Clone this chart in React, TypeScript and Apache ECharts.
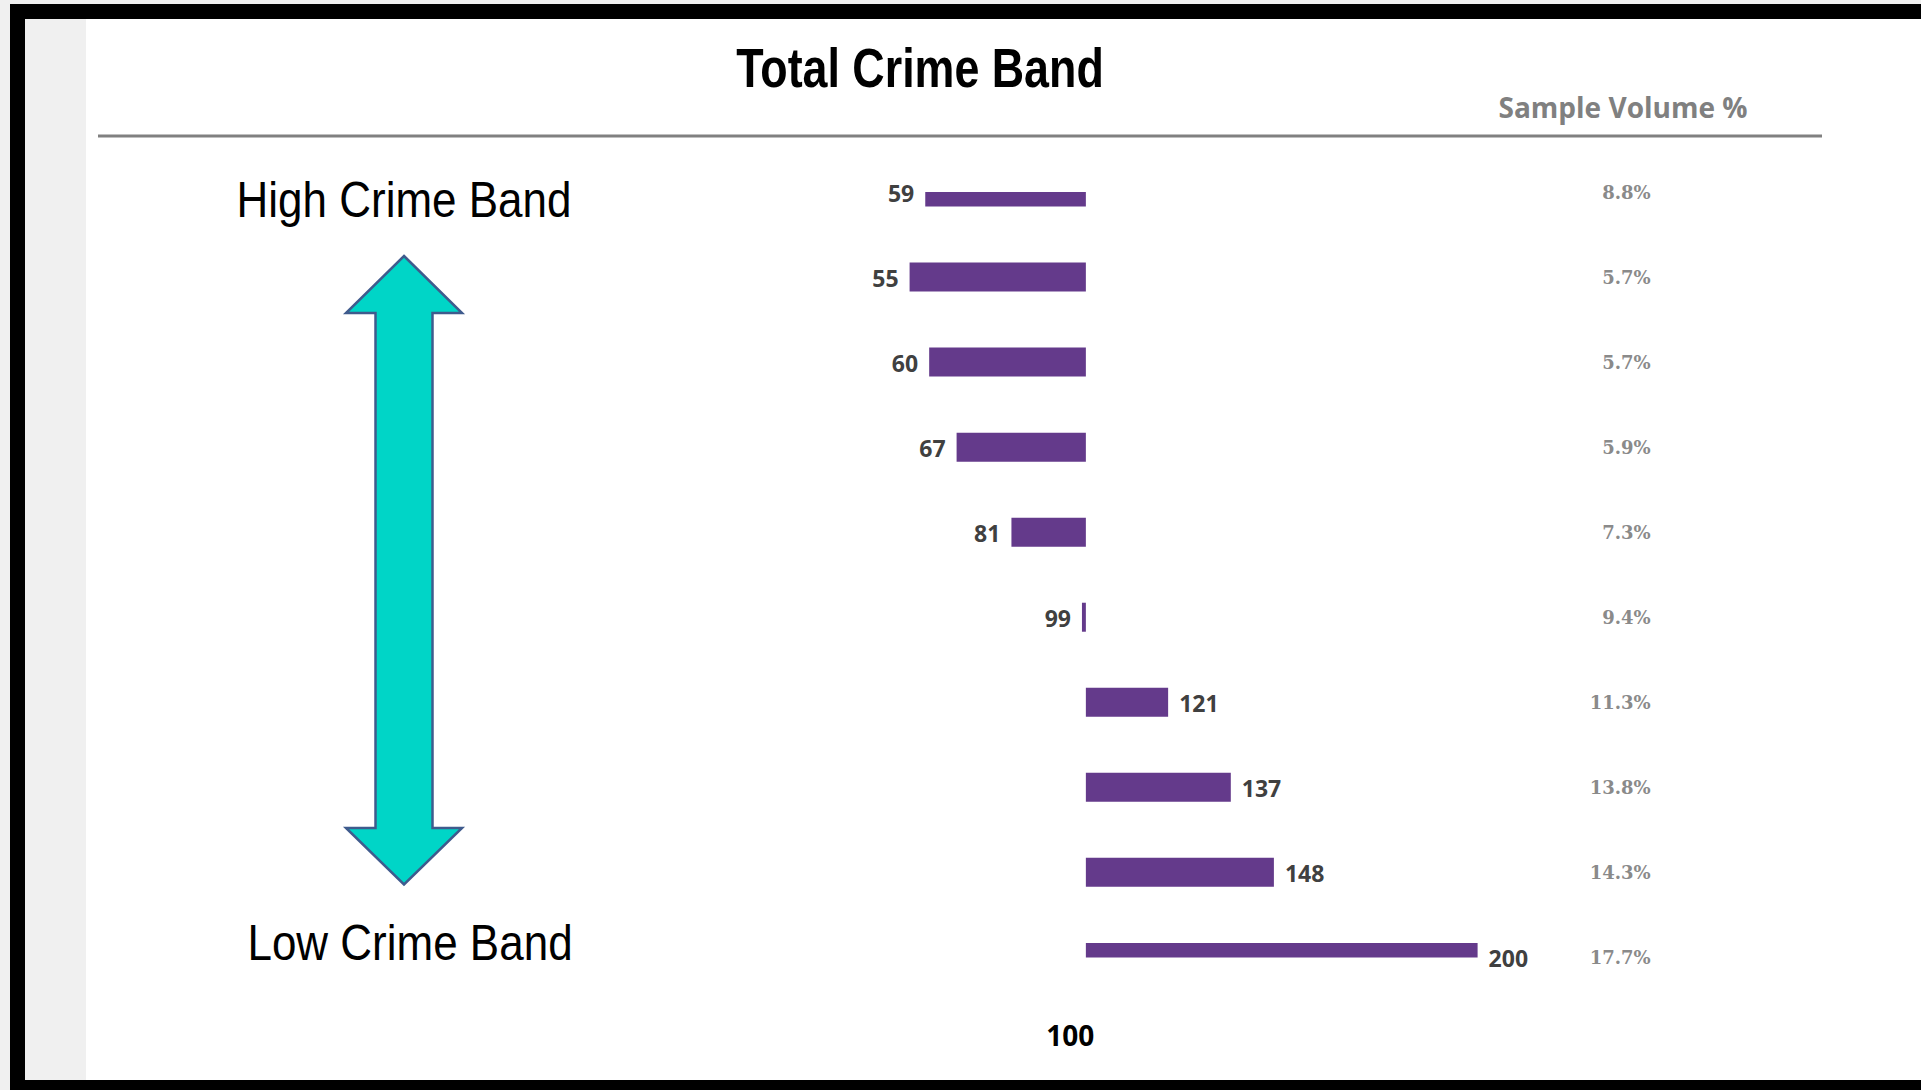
import React, { useEffect, useRef } from "react";
import * as echarts from "echarts";

const categories = ["Band 1", "Band 2", "Band 3", "Band 4", "Band 5", "Band 6", "Band 7", "Band 8", "Band 9", "Band 10"];
const indexValues = [59, 55, 60, 67, 81, 99, 121, 137, 148, 200];
const sampleVolume = [8.8, 5.7, 5.7, 5.9, 7.3, 9.4, 11.3, 13.8, 14.3, 17.7];
const baseline = 100;

const chartTitle = "Total Crime Band";
const rightHeader = "Sample Volume %";
const topLabel = "High Crime Band";
const bottomLabel = "Low Crime Band";

const BAR_COLOR = "#643A8B";
const BAR_HEIGHT = 29;
const LABEL_GAP = 11;

export default function App() {
  const ref = useRef<HTMLDivElement>(null);

  useEffect(() => {
    if (!ref.current) return;
    const chart = echarts.init(ref.current, null, { renderer: "svg" });

    const renderBar = (params: any, api: any) => {
      const dev = api.value(0);
      const cat = api.value(1);
      const p0 = api.coord([0, cat]);
      const p1 = api.coord([dev, cat]);
      const cs = params.coordSys;
      const rect = echarts.graphic.clipRectByRect(
        {
          x: Math.min(p0[0], p1[0]),
          y: p0[1] - BAR_HEIGHT / 2,
          width: Math.abs(p1[0] - p0[0]),
          height: BAR_HEIGHT,
        },
        { x: cs.x, y: cs.y, width: cs.width, height: cs.height }
      );
      const negative = dev < 0;
      const children: any[] = [];
      if (rect) {
        children.push({
          type: "rect",
          shape: rect,
          style: { fill: BAR_COLOR },
        });
      }
      children.push({
        type: "text",
        x: negative ? p1[0] - LABEL_GAP : p1[0] + LABEL_GAP,
        y: p0[1] + 1,
        style: {
          text: String(indexValues[params.dataIndex]),
          align: negative ? "right" : "left",
          verticalAlign: "middle",
          fontFamily: "Open Sans",
          fontWeight: "bold",
          fontSize: 23,
          fill: "#404040",
        },
      });
      return { type: "group", children };
    };

    const option: any = {
      animation: false,
      backgroundColor: "#ffffff",
      grid: { left: 890, width: 587.6, top: 192, height: 765.4, containLabel: false },
      xAxis: {
        type: "value",
        min: -50,
        max: 100,
        interval: 50,
        axisLine: { show: false },
        axisTick: { show: false },
        splitLine: { show: false },
        axisLabel: {
          formatter: (v: number) => (v === 0 ? String(baseline) : ""),
          margin: 64,
          padding: [0, 31, 0, 0],
          fontFamily: "Open Sans",
          fontWeight: "bold",
          fontSize: 28,
          color: "#000000",
        },
      },
      yAxis: [
        {
          type: "category",
          data: categories,
          inverse: true,
          boundaryGap: false,
          axisLine: { show: false },
          axisTick: { show: false },
          axisLabel: { show: false },
          splitLine: { show: false },
        },
        {
          type: "category",
          data: categories,
          inverse: true,
          boundaryGap: false,
          position: "right",
          axisLine: { show: false },
          axisTick: { show: false },
          splitLine: { show: false },
          axisLabel: {
            formatter: (_v: string, i: number) => sampleVolume[i].toFixed(1) + "%",
            align: "right",
            margin: 173,
            fontFamily: "DejaVu Serif",
            fontWeight: "bold",
            fontSize: 18,
            color: "#8a8a8a",
          },
        },
      ],
      series: [
        {
          type: "custom",
          name: "Index",
          xAxisIndex: 0,
          yAxisIndex: 0,
          encode: { x: 0, y: 1 },
          renderItem: renderBar,
          data: indexValues.map((v, i) => [v - baseline, categories[i]]),
        },
      ],
      graphic: [
        { type: "rect", shape: { x: 0, y: 0, width: 1921, height: 4 }, style: { fill: "#f0f0f0" }, z: 0 },
        { type: "rect", shape: { x: 0, y: 0, width: 10, height: 1090 }, style: { fill: "#f0f0f0" }, z: 0 },
        { type: "rect", shape: { x: 25, y: 19, width: 61, height: 1061 }, style: { fill: "#f0f0f0" }, z: 0 },
        { type: "rect", shape: { x: 10, y: 4, width: 1911, height: 15 }, style: { fill: "#000000" }, z: 1 },
        { type: "rect", shape: { x: 10, y: 4, width: 15, height: 1086 }, style: { fill: "#000000" }, z: 1 },
        { type: "rect", shape: { x: 10, y: 1080, width: 1911, height: 10 }, style: { fill: "#000000" }, z: 1 },
        {
          type: "line",
          shape: { x1: 98, y1: 136, x2: 1822, y2: 136 },
          style: { stroke: "#808080", lineWidth: 3 },
        },
        {
          type: "text",
          x: 920,
          y: 68,
          scaleX: 0.8,
          style: {
            text: chartTitle,
            align: "center",
            verticalAlign: "middle",
            fontFamily: "Liberation Sans",
            fontWeight: "bold",
            fontSize: 56,
            fill: "#000000",
          },
        },
        {
          type: "text",
          x: 1623,
          y: 107,
          style: {
            text: rightHeader,
            align: "center",
            verticalAlign: "middle",
            fontFamily: "Open Sans",
            fontWeight: "bold",
            fontSize: 28,
            fill: "#808080",
          },
        },
        {
          type: "text",
          x: 404,
          y: 200,
          scaleY: 1.12,
          style: {
            text: topLabel,
            align: "center",
            verticalAlign: "middle",
            fontFamily: "Liberation Sans",
            fontSize: 44,
            fill: "#000000",
          },
        },
        {
          type: "text",
          x: 410,
          y: 943,
          scaleY: 1.12,
          style: {
            text: bottomLabel,
            align: "center",
            verticalAlign: "middle",
            fontFamily: "Liberation Sans",
            fontSize: 44,
            fill: "#000000",
          },
        },
        {
          type: "polygon",
          shape: {
            points: [
              [404, 256],
              [462, 313],
              [432.5, 313],
              [432.5, 828],
              [462, 828],
              [404, 884.5],
              [346, 828],
              [375.5, 828],
              [375.5, 313],
              [346, 313],
            ],
          },
          style: { fill: "#00D5C7", stroke: "#3F5B8D", lineWidth: 2.5 },
        },
      ],
    };

    chart.setOption(option);
    return () => chart.dispose();
  }, []);

  return (
    <div
      ref={ref}
      style={{ position: "absolute", left: 0, top: 0, width: 1921, height: 1090 }}
    />
  );
}
